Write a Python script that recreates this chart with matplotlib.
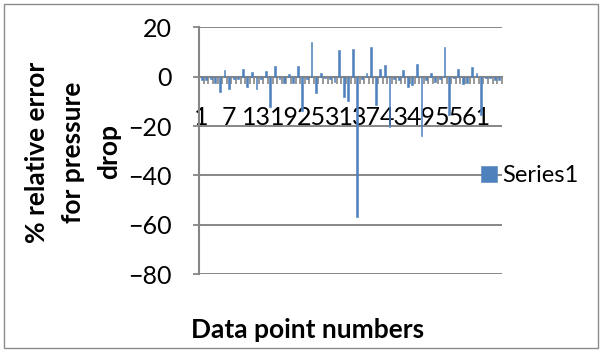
import numpy as np
import matplotlib
matplotlib.use('Agg')
import matplotlib.pyplot as plt
from matplotlib.patches import Rectangle

plt.rcParams['font.family'] = ['Lato', 'DejaVu Sans']

# % relative error for each data point (1..66)
point_numbers = np.arange(1, 67)
relative_error = [
    -1.2, -1.5, -1.0, -2.5, -6.0, 2.8, -5.0, -1.0, -0.8, 3.3,
    -4.2, 2.1, -5.0, -1.0, 2.4, -12.2, 4.4, -1.0, -2.5, 1.2,
    -2.7, 4.5, -13.8, -1.0, 14.2, -6.8, 1.6, -0.6, -1.0, -2.0,
    10.9, -8.1, -10.0, 11.2, -57.0, -1.0, 1.5, 12.0, -11.5, 3.1,
    4.7, -20.4, -1.0, -1.5, 2.9, -4.0, -3.5, 5.2, -24.0, -1.5,
    1.7, -2.0, -1.0, 12.0, -15.6, -0.6, 3.2, -2.8, -2.7, 3.9,
    1.4, -15.6, -0.6, -0.5, -1.5, -1.2,
]
x_labels = [1, 7, 13, 19, 25, 31, 37, 43, 49, 55, 61]
y_ticks = [20, 0, -20, -40, -60, -80]

grey = '#868686'
blue = '#4F81BD'

W, H = 604, 351
fig = plt.figure(figsize=(W / 100, H / 100), dpi=100)
ax = fig.add_axes([199.3 / W, 1 - 274 / H, (501.7 - 199.3) / W, (274 - 27.4) / H])

ax.bar(point_numbers, relative_error, width=0.4, color=blue, ec=blue, lw=0.4,
       label='Series1', zorder=3)

ax.set_xlim(0.5, len(point_numbers) + 0.5)
ax.set_ylim(-80, 20)
ax.set_yticks(y_ticks)
ax.yaxis.grid(True, color=grey, lw=1.4)
ax.set_axisbelow(True)

for s in ['top', 'right']:
    ax.spines[s].set_visible(False)
ax.spines['bottom'].set_position(('data', 0))
ax.spines['bottom'].set_color(grey)
ax.spines['bottom'].set_linewidth(1.5)
ax.spines['bottom'].set_zorder(2)
ax.spines['left'].set_color(grey)
ax.spines['left'].set_linewidth(1.5)

# category tick marks between points, labels every 6th point
ax.set_xticks(np.arange(0.5, len(point_numbers) + 1, 1.0))
ax.set_xticklabels([])
ax.set_xticks(x_labels, minor=True)
ax.set_xticklabels([str(v) for v in x_labels], minor=True)
ax.tick_params(axis='x', which='major', length=5, width=1.2, color=grey, direction='out')
ax.tick_params(axis='x', which='minor', length=0, pad=21, labelsize=18)
ax.tick_params(axis='y', length=4, width=1.3, color=grey, pad=16, labelsize=18)

leg = ax.legend(loc='center left', bbox_to_anchor=(481 / W, 1 - 176 / H),
                bbox_transform=fig.transFigure, frameon=False, fontsize=17,
                handlelength=0.68, handleheight=0.68, handletextpad=0.2,
                borderpad=0, borderaxespad=0)

fig.text(73 / W, 1 - 152 / H, '% relative error\nfor pressure\ndrop', rotation=90,
         ha='center', va='center', multialignment='center',
         fontsize=19, fontweight='bold', linespacing=1.6)
fig.text(308 / W, 1 - 338 / H, 'Data point numbers', ha='center', va='baseline',
         fontsize=19, fontweight='bold')

fig.add_artist(Rectangle((4 / W, 3 / H), 594 / W, 344 / H, transform=fig.transFigure,
                         fill=False, ec='#8c8c8c', lw=1))

fig.savefig('out.png', dpi=100)
